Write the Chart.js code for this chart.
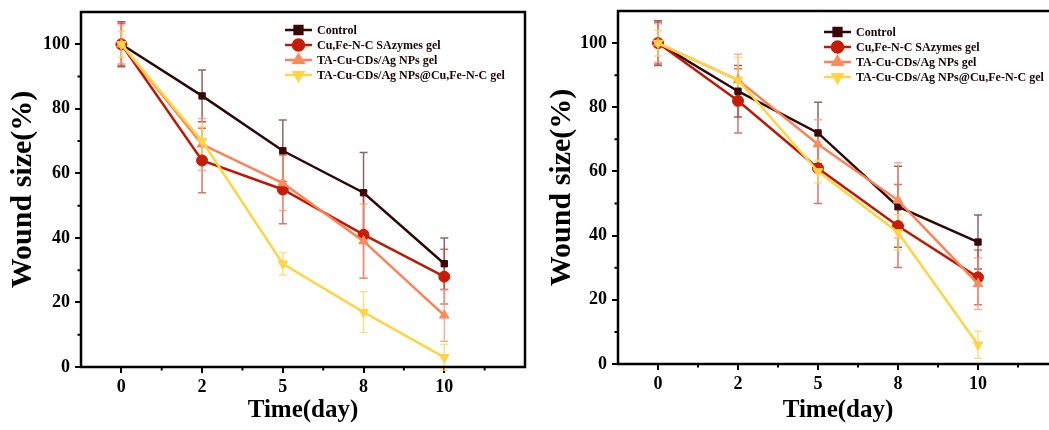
<!DOCTYPE html>
<html>
<head>
<meta charset="utf-8">
<script src="https://cdn.jsdelivr.net/npm/chart.js@4.4.1/dist/chart.umd.min.js"></script>
<style>
  html, body { margin: 0; padding: 0; background: #fff; overflow: hidden; }
  body { width: 1049px; height: 430px; position: relative; }
  .panel { position: absolute; top: 0; height: 430px; }
  #leftWrap { left: 0; width: 540px; }
  #rightWrap { left: 537px; width: 536px; }
</style>
</head>
<body>
<div class="panel" id="leftWrap"><canvas id="woundA"></canvas></div>
<div class="panel" id="rightWrap"><canvas id="woundB"></canvas></div>
<script>
// x categories (days) and group names
const days = ["0", "2", "5", "8", "10"];
const groupNames = ["Control", "Cu,Fe-N-C SAzymes gel", "TA-Cu-CDs/Ag NPs gel", "TA-Cu-CDs/Ag NPs@Cu,Fe-N-C gel"];
const yTicks = [0, 20, 40, 60, 80, 100];

// panel A: wound size (%) and SD
const controlA = [100, 84, 67, 54, 32];
const cufeA = [100, 64, 55, 41, 28];
const taAgA = [100, 69, 57, 39, 16];
const taCufeA = [100, 70, 32, 17, 3];
const controlErrA = [7, 8, 9.5, 12.5, 8];
const cufeErrA = [6.5, 10, 10.6, 13.5, 8.5];
const taAgErrA = [6, 8, 8.5, 11.5, 8];
const taCufeErrA = [4, 4.5, 3.5, 6.3, 4];

// panel B
const controlB = [100, 85, 72, 49, 38];
const cufeB = [100, 82, 61, 43, 27];
const taAgB = [100, 88.5, 68.5, 51, 25];
const taCufeB = [100, 88.5, 60, 41, 6];
const controlErrB = [7, 8, 9.6, 12.6, 8.4];
const cufeErrB = [6.5, 10, 11, 12.9, 8.5];
const taAgErrB = [6, 8, 7.6, 11.7, 8];
const taCufeErrB = [4, 7, 3.5, 5.5, 4.2];

const lineColors = ["#2e0707", "#bd1a04", "#ff8054", "#ffd445"];
const markerColors = ["#3a0808", "#c41d08", "#ff8a5c", "#ffd445"];
const barColors = ["rgba(120,75,75,0.85)", "rgba(205,70,50,0.75)", "rgba(255,150,120,0.75)", "rgba(255,215,100,0.8)"];
const pointStyles = ["rect", "circle", "triangle", "triangle"];
const pointTurns = [0, 0, 0, 180];

const FONT = "'Liberation Serif', 'Times New Roman', serif";

// vertical SD bars with caps
const errorBars = {
  id: "errorBars",
  beforeDatasetsDraw(chart) {
    const { ctx } = chart;
    const xs = chart.scales.x, ys = chart.scales.y;
    chart.data.datasets.forEach((ds, i) => {
      ctx.save();
      ctx.strokeStyle = barColors[i];
      ctx.lineWidth = 1.5;
      ds.data.forEach((pt, j) => {
        const err = ds.errors[j];
        const px = xs.getPixelForValue(pt.x);
        const top = ys.getPixelForValue(pt.y + err);
        const bot = ys.getPixelForValue(pt.y - err);
        ctx.beginPath();
        ctx.moveTo(px, top); ctx.lineTo(px, bot);
        ctx.moveTo(px - 4, top); ctx.lineTo(px + 4, top);
        ctx.moveTo(px - 4, bot); ctx.lineTo(px + 4, bot);
        ctx.stroke();
      });
      ctx.restore();
    });
  }
};

// box frame + short minor ticks
const frame = {
  id: "frame",
  afterDraw(chart) {
    const { ctx, chartArea: a } = chart;
    const xs = chart.scales.x, ys = chart.scales.y;
    ctx.save();
    ctx.strokeStyle = "#000";
    ctx.lineWidth = 2;
    ctx.beginPath();
    for (let v = 10; v < ys.max; v += 20) {
      const py = ys.getPixelForValue(v);
      ctx.moveTo(a.left, py); ctx.lineTo(a.left - 3.5, py);
    }
    for (let v = 0.5; v < xs.max; v += 1) {
      const px = xs.getPixelForValue(v);
      ctx.moveTo(px, a.bottom); ctx.lineTo(px, a.bottom + 3.5);
    }
    ctx.stroke();
    ctx.lineWidth = 2.5;
    ctx.strokeRect(a.left, a.top, a.right - a.left, a.bottom - a.top);
    ctx.restore();
  }
};

// legend inside the plot box: line + marker + label
const insideLegend = {
  id: "insideLegend",
  afterDatasetsDraw(chart, args, opts) {
    const { ctx, chartArea } = chart;
    ctx.save();
    ctx.font = "bold 12px " + FONT;
    ctx.textBaseline = "middle";
    chart.data.datasets.forEach((ds, i) => {
      const x0 = chartArea.left + opts.dx;
      const y0 = chartArea.top + opts.dy + i * 15;
      ctx.strokeStyle = ds.borderColor;
      ctx.lineWidth = 2.5;
      ctx.beginPath(); ctx.moveTo(x0, y0); ctx.lineTo(x0 + 27, y0); ctx.stroke();
      ctx.fillStyle = ds.pointBackgroundColor;
      ctx.strokeStyle = ds.pointBorderColor;
      Chart.helpers.drawPoint(ctx, { pointStyle: ds.pointStyle, rotation: ds.pointRotation, radius: 5.5, borderWidth: 1 }, x0 + 13.5, y0);
      ctx.fillStyle = "#1a0505";
      ctx.fillText(ds.label, x0 + 32, y0 + 1);
    });
    ctx.restore();
  }
};

// fixed axis sizes, no extra edge padding for labels
function fixBox(s, size) {
  if (s.isHorizontal()) s.height = size; else s.width = size;
  s.paddingTop = 0; s.paddingBottom = 0; s.paddingLeft = 0; s.paddingRight = 0;
}

function makeChart(id, series, errs, lay) {
  const datasets = series.map((vals, i) => ({
    label: groupNames[i],
    data: vals.map((v, j) => ({ x: j, y: v })),
    errors: errs[i],
    borderColor: lineColors[i],
    backgroundColor: markerColors[i],
    pointBackgroundColor: markerColors[i],
    pointBorderColor: markerColors[i],
    borderWidth: 2.5,
    pointStyle: pointStyles[i],
    pointRotation: pointTurns[i],
    pointRadius: i === 0 ? 4.5 : 5.5,
    pointBorderWidth: 1,
    order: 3 - i
  }));

  return new Chart(document.getElementById(id), {
    type: "line",
    data: { datasets: datasets },
    plugins: [errorBars, frame, insideLegend],
    options: {
      responsive: true,
      maintainAspectRatio: false,
      animation: false,
      layout: { padding: { top: lay.top, right: lay.right, left: 0, bottom: 0 } },
      plugins: {
        legend: { display: false },
        tooltip: { enabled: false },
        insideLegend: { dx: lay.legendDx, dy: lay.legendDy }
      },
      scales: {
        x: {
          type: "linear",
          min: -0.5,
          max: 5,
          afterBuildTicks: s => { s.ticks = days.map((d, i) => ({ value: i })); },
          afterFit: s => fixBox(s, lay.xHeight),
          border: { display: false },
          grid: { drawOnChartArea: false, drawTicks: true, tickLength: 6, color: "#000", lineWidth: 2 },
          ticks: {
            callback: v => days[v],
            font: { family: FONT, size: 18, weight: "bold" },
            color: "#000",
            padding: 4,
            maxRotation: 0
          },
          title: {
            display: true,
            text: "Time(day)",
            font: { family: FONT, size: 25, weight: "bold" },
            color: "#000",
            padding: { top: 0, bottom: 4 }
          }
        },
        y: {
          min: 0,
          max: 110,
          afterBuildTicks: s => { s.ticks = yTicks.map(v => ({ value: v })); },
          afterFit: s => fixBox(s, 81),
          border: { display: false },
          grid: { drawOnChartArea: false, drawTicks: true, tickLength: 6, color: "#000", lineWidth: 2 },
          ticks: {
            font: { family: FONT, size: 18, weight: "bold" },
            color: "#000",
            padding: 5
          },
          title: {
            display: true,
            text: "Wound size(%)",
            font: { family: FONT, size: 30, weight: "bold" },
            color: "#000",
            padding: { top: lay.yTitlePad, bottom: 0 }
          }
        }
      }
    }
  });
}

makeChart("woundA",
  [controlA, cufeA, taAgA, taCufeA],
  [controlErrA, cufeErrA, taAgErrA, taCufeErrA],
  { top: 12, right: 15, xHeight: 63, yTitlePad: 5, legendDx: 204, legendDy: 18 });

makeChart("woundB",
  [controlB, cufeB, taAgB, taCufeB],
  [controlErrB, cufeErrB, taAgErrB, taCufeErrB],
  { top: 11, right: 15, xHeight: 66, yTitlePad: 7, legendDx: 206, legendDy: 21 });
</script>
</body>
</html>
